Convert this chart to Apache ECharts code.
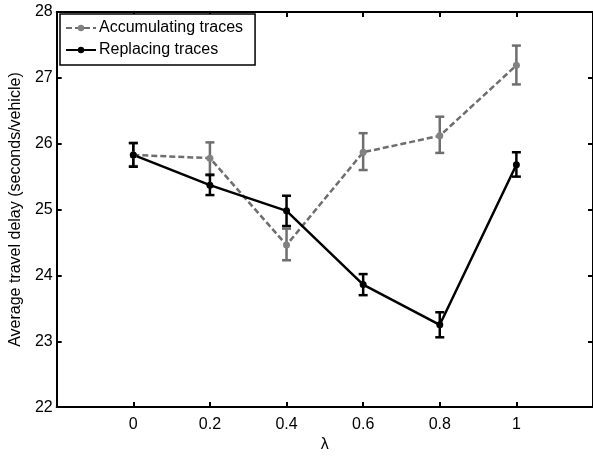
<!DOCTYPE html>
<html>
<head>
<meta charset="utf-8">
<script src="https://cdn.jsdelivr.net/npm/echarts@6/dist/echarts.min.js"></script>
<style>
  html, body { margin: 0; padding: 0; background: #fff; }
  #chart { width: 593px; height: 458px; }
</style>
</head>
<body>
<div id="chart"></div>
<script>
// lambda values
var lambdas = [0, 0.2, 0.4, 0.6, 0.8, 1];

// accumulating traces: mean, lower, upper
var accMean = [25.83, 25.78, 24.46, 25.87, 26.12, 27.19];
var accLow  = [25.66, 25.52, 24.23, 25.60, 25.86, 26.90];
var accHigh = [26.01, 26.02, 24.71, 26.16, 26.41, 27.49];

// replacing traces: mean, lower, upper
var repMean = [25.83, 25.37, 24.98, 23.86, 23.25, 25.68];
var repLow  = [25.65, 25.22, 24.75, 23.70, 23.06, 25.50];
var repHigh = [26.01, 25.53, 25.21, 24.02, 23.44, 25.87];

var FONT = 'Liberation Sans, Arial, sans-serif';
var GRAY = '#6e6e6e';

function pairs(xs, ys) {
    return xs.map(function (x, i) { return [x, ys[i]]; });
}
function bars(xs, lo, hi) {
    return xs.map(function (x, i) { return [x, lo[i], hi[i]]; });
}

function errorBar(color) {
    return function (params, api) {
        var x = api.value(0);
        var top = api.coord([x, api.value(2)]);
        var bot = api.coord([x, api.value(1)]);
        var w = 4.5;
        var style = { stroke: color, lineWidth: 2.5 };
        return {
            type: 'group',
            children: [
                { type: 'line', shape: { x1: top[0], y1: top[1], x2: bot[0], y2: bot[1] }, style: style },
                { type: 'line', shape: { x1: top[0] - w, y1: top[1], x2: top[0] + w, y2: top[1] }, style: style },
                { type: 'line', shape: { x1: bot[0] - w, y1: bot[1], x2: bot[0] + w, y2: bot[1] }, style: style }
            ]
        };
    };
}

var axisCommon = {
    axisLine: { show: true, onZero: false, lineStyle: { color: '#000', width: 2 } },
    axisTick: { show: true, inside: true, length: 5, lineStyle: { color: '#000', width: 2 } },
    splitLine: { show: false }
};

function xAx(extra) {
    return Object.assign({
        type: 'value', min: -0.2, max: 1.2, interval: 0.2
    }, JSON.parse(JSON.stringify(axisCommon)), extra);
}
function yAx(extra) {
    return Object.assign({
        type: 'value', min: 22, max: 28, interval: 1
    }, JSON.parse(JSON.stringify(axisCommon)), extra);
}

var chart = echarts.init(document.getElementById('chart'));
var option = {
    animation: false,
    backgroundColor: '#fff',
    textStyle: { fontFamily: FONT },
    grid: { left: 55, top: 12, width: 539, height: 403 },
    legend: {
        orient: 'vertical',
        left: 60,
        top: 14,
        data: ['Accumulating traces', 'Replacing traces'],
        itemWidth: 30,
        itemHeight: 8,
        itemGap: 6,
        padding: [6, 12, 7, 5],
        borderColor: '#000',
        borderWidth: 1.5,
        backgroundColor: '#fff',
        textStyle: { fontFamily: FONT, fontSize: 16, lineHeight: 16, color: '#000', padding: [0, 0, 0, -2] }
    },
    xAxis: [
        xAx({
            position: 'bottom',
            name: 'λ',
            nameLocation: 'middle',
            nameGap: 27,
            nameTextStyle: { fontFamily: FONT, fontSize: 16, color: '#000' },
            axisLabel: {
                margin: 9, fontFamily: FONT, fontSize: 16, color: '#000',
                showMinLabel: false, showMaxLabel: false,
                formatter: function (v) {
                    if (v < -0.1 || v > 1.1) return '';
                    return String(+v.toFixed(1));
                }
            }
        }),
        xAx({ position: 'top', axisLabel: { show: false } })
    ],
    yAxis: [
        yAx({
            position: 'left',
            name: 'Average travel delay (seconds/vehicle)',
            nameLocation: 'middle',
            nameGap: 30,
            nameTextStyle: { fontFamily: FONT, fontSize: 16, color: '#000' },
            axisLabel: { margin: 4, fontFamily: FONT, fontSize: 16, color: '#000' }
        }),
        yAx({ position: 'right', axisLabel: { show: false } })
    ],
    series: [
        {
            name: 'Accumulating traces',
            type: 'line',
            data: pairs(lambdas, accMean),
            symbol: 'circle',
            symbolSize: 7,
            itemStyle: { color: '#828282' },
            lineStyle: { color: GRAY, width: 2.5, type: [6, 3] }
        },
        {
            type: 'custom',
            data: bars(lambdas, accLow, accHigh),
            renderItem: errorBar(GRAY),
            encode: { x: 0, y: [1, 2] }
        },
        {
            name: 'Replacing traces',
            type: 'line',
            data: pairs(lambdas, repMean),
            symbol: 'circle',
            symbolSize: 7,
            itemStyle: { color: '#000' },
            lineStyle: { color: '#000', width: 2.5 }
        },
        {
            type: 'custom',
            data: bars(lambdas, repLow, repHigh),
            renderItem: errorBar('#000'),
            encode: { x: 0, y: [1, 2] }
        }
    ]
};
chart.setOption(option);
</script>
</body>
</html>
